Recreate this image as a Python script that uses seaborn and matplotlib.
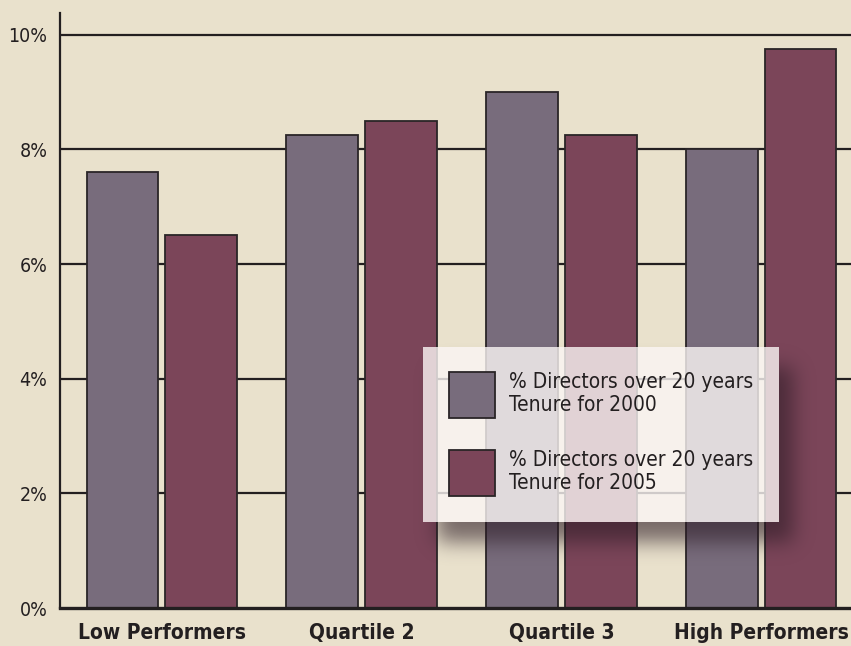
import pandas as pd
import numpy as np
import matplotlib
matplotlib.use('Agg')
import matplotlib.pyplot as plt
import matplotlib.patches as mpatches
import seaborn as sns

categories = ['Low Performers', 'Quartile 2', 'Quartile 3', 'High Performers']
series_names = ['% Directors over 20 years\nTenure for 2000',
                '% Directors over 20 years\nTenure for 2005']
values_2000 = [7.6, 8.25, 9.0, 8.0]
values_2005 = [6.5, 8.5, 8.25, 9.75]
y_ticks = [0, 2, 4, 6, 8, 10]
y_tick_labels = ['0%', '2%', '4%', '6%', '8%', '10%']

colors = ['#786c7c', '#7b4559']
bg = '#e9e1cc'
ink = '#231f20'

sns.set_style('white')
plt.rcParams['font.family'] = ['DejaVu Sans']
plt.rcParams['font.stretch'] = 'condensed'

df = pd.DataFrame({
    'Group': categories * 2,
    'Value': values_2000 + values_2005,
    'Series': [series_names[0]] * 4 + [series_names[1]] * 4,
})

W, H = 851, 646
fig = plt.figure(figsize=(W / 100, H / 100), dpi=100, facecolor=bg)
AX_L, AX_B, AX_W, AX_H = 60, 38, 791, 595
ax = fig.add_axes([AX_L / W, AX_B / H, AX_W / W, AX_H / H])
ax.set_facecolor(bg)

sns.barplot(data=df, x='Group', y='Value', hue='Series', palette=colors,
            width=0.79, gap=0.09, edgecolor='#2a2527', linewidth=1.3,
            saturation=1, ax=ax, zorder=3)

ax.set_yticks(y_ticks)
ax.set_yticklabels(y_tick_labels, fontsize=14, color=ink)
ax.set_xticks(range(len(categories)))
ax.set_xticklabels(categories, fontsize=15, fontweight='bold', color=ink)
ax.tick_params(axis='y', direction='out', length=7, width=1.5, color=ink, pad=2)
ax.tick_params(axis='x', length=0, pad=11)
ax.set_xlabel('')
ax.set_ylabel('')

for y in y_ticks[1:]:
    ax.axhline(y, color=ink, lw=1.6, zorder=1)

for side in ['top', 'right']:
    ax.spines[side].set_visible(False)
ax.spines['left'].set_color(ink)
ax.spines['left'].set_linewidth(1.6)
ax.spines['bottom'].set_color(ink)
ax.spines['bottom'].set_linewidth(2.4)
ax.spines['bottom'].set_zorder(4)


def to_ax(px, py):
    # figure pixel (top-left origin) -> axes fraction
    return (px - AX_L) / AX_W, (H - py - AX_B) / AX_H


# legend box, pixel coords from the top-left of the figure
bx0, by0, bx1, by1 = 423, 347, 779, 522

# blurred drop shadow, kept outside the box itself
sx0, sy0, sx1, sy1 = 395, 320, 840, 600
yy, xx = np.mgrid[sy0:sy1, sx0:sx1] + 0.5
mask = ((xx > bx0 + 14) & (xx < bx1 + 14) & (yy > by0 + 20) & (yy < by1 + 20)).astype(float)
k = np.exp(-0.5 * (np.arange(-30, 31) / 10.0) ** 2)
k /= k.sum()
mask = np.apply_along_axis(lambda r: np.convolve(r, k, mode='same'), 1, mask)
mask = np.apply_along_axis(lambda c: np.convolve(c, k, mode='same'), 0, mask)
inside = (xx > bx0) & (xx < bx1) & (yy > by0) & (yy < by1)
shadow = np.zeros(mask.shape + (4,))
shadow[..., :3] = np.array([0x2b, 0x1a, 0x24]) / 255
shadow[..., 3] = np.where(inside, 0, 0.6 * mask)
ex0, ey1 = to_ax(sx0, sy0)
ex1, ey0 = to_ax(sx1, sy1)
ax.imshow(shadow, extent=(ex0, ex1, ey0, ey1), transform=ax.transAxes,
          aspect='auto', zorder=5, interpolation='bilinear', origin='upper')

lx0, ly1 = to_ax(bx0, by0)
lx1, ly0 = to_ax(bx1, by1)
ax.add_patch(mpatches.Rectangle((lx0, ly0), lx1 - lx0, ly1 - ly0, transform=ax.transAxes,
                                facecolor='#fbf6f5', edgecolor='none', alpha=0.8, zorder=6))

ax.set_xlim(-0.51, 3.45)
ax.set_ylim(0, 10.38)

handles, labels = ax.get_legend_handles_labels()
ax_x, ax_y = to_ax(bx0 + 8, by0 + 7)
leg = ax.legend(handles, labels, loc='upper left', bbox_to_anchor=(ax_x, ax_y),
                fontsize=15, handlelength=2.2, handleheight=3.0,
                handletextpad=0.7, labelspacing=1.52, borderpad=0.85,
                frameon=False, borderaxespad=0)
leg.set_zorder(7)
for t in leg.get_texts():
    t.set_color(ink)
    t.set_linespacing(1.2)
for h in leg.legend_handles:
    h.set_edgecolor('#2a2527')
    h.set_linewidth(1.3)

fig.savefig('out.png', dpi=100, facecolor=bg)
